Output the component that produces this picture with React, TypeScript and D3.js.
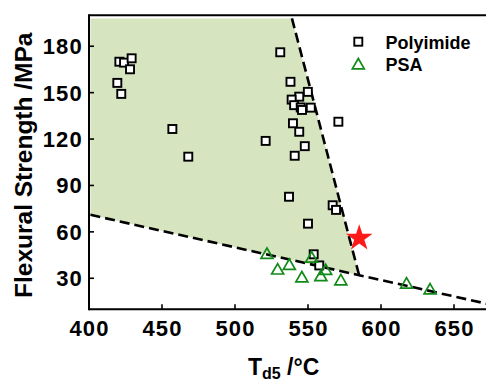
import React, { useEffect, useRef } from 'react';
import * as d3 from 'd3';

// Polyimide points: [Td5 (°C), flexural strength (MPa)]
const polyimideT = [420.8, 424.0, 429.2, 428.1, 419.4, 422.1, 457.1, 468.0, 521.0, 531.0, 538.0, 549.9, 544.0, 538.8, 540.5, 545.0, 545.9, 551.9, 570.8, 539.7, 544.0, 547.8, 540.9, 537.0, 566.9, 569.2, 550.0, 553.9, 557.7];
const polyimideS = [170.0, 169.4, 172.2, 165.1, 156.3, 149.2, 126.5, 108.6, 118.8, 176.1, 157.0, 150.5, 147.4, 145.5, 141.9, 140.4, 138.8, 140.3, 131.2, 130.2, 124.7, 115.4, 109.2, 82.7, 77.2, 74.2, 65.3, 45.5, 38.3];

// PSA points
const psaT = [521.9, 529.2, 537.2, 545.8, 552.5, 558.8, 562.1, 572.5, 617.5, 633.6];
const psaS = [46.2, 36.1, 39.1, 31.0, 43.8, 31.8, 35.8, 29.1, 27.0, 23.2];

// this work
const starT = [585.1];
const starS = [55.9];

// boundary lines
const upperT = [539, 585];
const upperS = [198, 32];
const lowerT = [401, 585, 675];
const lowerS = [71, 32, 13];
const regionT = [401, 539, 585, 401];
const regionS = [198, 198, 32, 71];

const xTicks = [400, 450, 500, 550, 600, 650];
const yTicks = [30, 60, 90, 120, 150, 180];
const legendLabels = ['Polyimide', 'PSA'];

const FONT = 'Liberation Sans, Arial, sans-serif';

const Chart = () => {
  const svgRef = useRef(null);

  useEffect(() => {
    const width = 486;
    const svg = d3.select(svgRef.current);
    svg.selectAll('*').remove();

    const x = d3.scaleLinear().domain([400, 680]).range([89, 89 + 280 * 1.46]);
    const y = d3.scaleLinear().domain([10, 200]).range([309.2, 15.3]);

    const zip = (a, b) => a.map((v, i) => [v, b[i]]);

    // shaded region
    svg.append('path')
      .attr('d', d3.line().x(d => x(d[0])).y(d => y(d[1]))(zip(regionT, regionS)) + 'Z')
      .attr('fill', '#d6e4bf');

    const line = d3.line().x(d => x(d[0])).y(d => y(d[1]));
    [[upperT, upperS], [lowerT, lowerS]].forEach(([t, s]) => {
      svg.append('path')
        .attr('d', line(zip(t, s)))
        .attr('fill', 'none')
        .attr('stroke', '#000')
        .attr('stroke-width', 2.6)
        .attr('stroke-dasharray', '10,5');
    });

    // frame
    const x0 = x(400), y0 = y(10), yTop = y(200);
    svg.append('line').attr('x1', x0).attr('x2', width + 5).attr('y1', y0).attr('y2', y0)
      .attr('stroke', '#000').attr('stroke-width', 2);
    svg.append('line').attr('x1', x0).attr('x2', width + 5).attr('y1', yTop).attr('y2', yTop)
      .attr('stroke', '#000').attr('stroke-width', 2);
    svg.append('line').attr('x1', x0).attr('x2', x0).attr('y1', yTop - 1).attr('y2', y0 + 1)
      .attr('stroke', '#000').attr('stroke-width', 2);

    // ticks (inward)
    xTicks.forEach(t => {
      svg.append('line').attr('x1', x(t)).attr('x2', x(t)).attr('y1', y0).attr('y2', y0 - 5)
        .attr('stroke', '#000').attr('stroke-width', 1.6);
      svg.append('text').attr('x', x(t) + 0.6).attr('y', y0 + 27)
        .attr('text-anchor', 'middle')
        .style('font-family', FONT).style('font-weight', 'bold').style('font-size', '22px')
        .style('letter-spacing', '1.2px')
        .attr('fill', '#000').text(t);
    });
    yTicks.forEach(t => {
      svg.append('text').attr('x', x0 - 6).attr('y', y(t) + 8)
        .attr('text-anchor', 'end')
        .style('font-family', FONT).style('font-weight', 'bold').style('font-size', '22px')
        .style('letter-spacing', '1.2px')
        .attr('fill', '#000').text(t);
      svg.append('line').attr('x1', x0).attr('x2', x0 + 5).attr('y1', y(t)).attr('y2', y(t))
        .attr('stroke', '#000').attr('stroke-width', 1.6);
    });

    // axis titles
    svg.append('text')
      .attr('transform', `translate(32,${(yTop + y0) / 2 + 3}) rotate(-90)`)
      .attr('text-anchor', 'middle')
      .style('font-family', FONT).style('font-weight', 'bold').style('font-size', '24.5px')
      .attr('fill', '#000').text('Flexural Strength /MPa');

    const xt = svg.append('text')
      .attr('x', 248).attr('y', 375)
      .style('font-family', FONT).style('font-weight', 'bold').style('font-size', '23px')
      .attr('fill', '#000');
    xt.append('tspan').text('T');
    xt.append('tspan').attr('dy', 4).style('font-size', '16px').text('d5');
    xt.append('tspan').attr('dy', -4).text(' /°C');

    // polyimide squares
    const sq = 8;
    svg.selectAll('.pi')
      .data(zip(polyimideT, polyimideS))
      .enter().append('rect')
      .attr('class', 'pi')
      .attr('x', d => x(d[0]) - sq / 2)
      .attr('y', d => y(d[1]) - sq / 2)
      .attr('width', sq).attr('height', sq)
      .attr('fill', '#fff').attr('stroke', '#000').attr('stroke-width', 1.9);

    // PSA triangles
    const tri = d3.symbol().type(d3.symbolTriangle).size(62);
    svg.selectAll('.psa')
      .data(zip(psaT, psaS))
      .enter().append('path')
      .attr('class', 'psa')
      .attr('d', tri)
      .attr('transform', d => `translate(${x(d[0])},${y(d[1]) + 1.7})`)
      .attr('fill', 'none').attr('stroke', '#118a18').attr('stroke-width', 1.7);

    // star
    svg.selectAll('.star')
      .data(zip(starT, starS))
      .enter().append('path')
      .attr('d', d3.symbol().type(d3.symbolStar).size(220))
      .attr('transform', d => `translate(${x(d[0])},${y(d[1])})`)
      .attr('fill', '#ff1a1a');

    // legend
    const lg = svg.append('g');
    legendLabels.forEach((label, i) => {
      const ly = 41.7 + i * 22;
      if (i === 0) {
        lg.append('rect').attr('x', 358.3 - sq / 2).attr('y', ly - sq / 2)
          .attr('width', sq).attr('height', sq)
          .attr('fill', '#fff').attr('stroke', '#000').attr('stroke-width', 1.9);
      } else {
        lg.append('path').attr('d', tri())
          .attr('transform', `translate(358.3,${ly + 1.7})`)
          .attr('fill', 'none').attr('stroke', '#118a18').attr('stroke-width', 1.7);
      }
      lg.append('text').attr('x', 385.5).attr('y', ly + 7)
        .style('font-family', FONT).style('font-weight', 'bold').style('font-size', '18px')
        .attr('fill', '#000').text(label);
    });
  }, []);

  return (
    <svg ref={svgRef} width={486} height={381}
      style={{ position: 'absolute', left: 0, top: 0, background: '#fff' }} />
  );
};

export default function App() {
  return <Chart />;
}
